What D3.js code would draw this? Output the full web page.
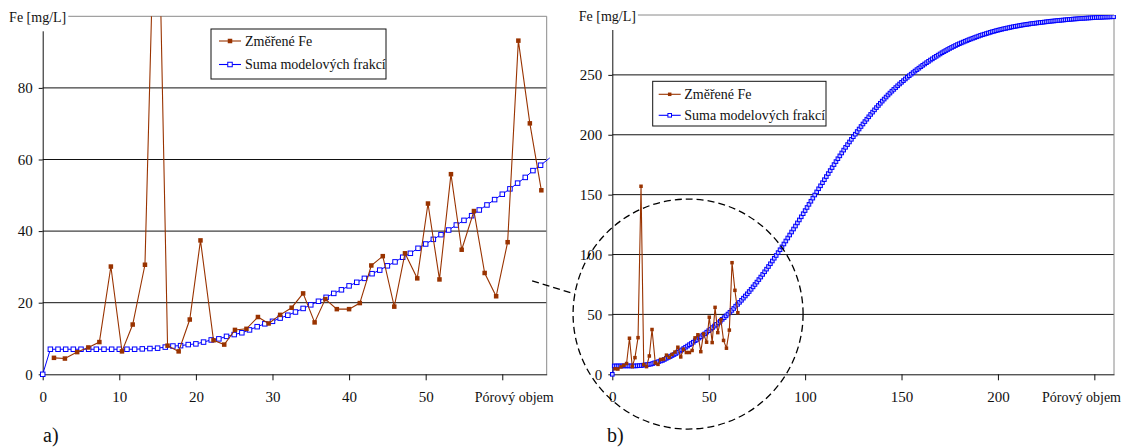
<!DOCTYPE html>
<html>
<head>
<meta charset="utf-8">
<script src="https://cdn.jsdelivr.net/npm/d3@7"></script>
<style>
  body { margin: 0; background: #fff; }
  svg { display: block; }
  svg text { font-family: "Liberation Serif", serif; }
</style>
</head>
<body>
<div id="chart"></div>
<script>
// series names, axis titles
const seriesNames = ['Změřené Fe', 'Suma modelových frakcí'];
const yTitle = 'Fe [mg/L]';
const xTitle = 'Pórový objem';
const panelLabels = ['a)', 'b)'];

// measured Fe (pore volume / mg/L)
const mereniObjem = [1.47, 2.9, 4.5, 5.96, 7.4, 8.9, 10.35, 11.75, 13.35, 14.9,
  16.3, 17.75, 19.2, 20.6, 22.3, 23.7, 25.1, 26.6, 28.1, 29.5,
  31.0, 32.5, 34.0, 35.5, 36.9, 38.4, 40.0, 41.4, 42.9, 44.4,
  45.9, 47.3, 48.9, 50.3, 51.8, 53.3, 54.7, 56.3, 57.7, 59.2,
  60.7, 62.1, 63.6, 65.1];
const mereniFe = [4.6, 4.4, 6.2, 7.5, 9.0, 30.1, 6.4, 13.9, 30.6, 157,
  8.0, 6.4, 15.3, 37.4, 9.5, 8.3, 12.4, 12.7, 16.0, 14.2,
  16.6, 18.6, 22.6, 14.5, 21.0, 18.2, 18.2, 19.9, 30.4, 33.0,
  18.9, 33.8, 26.8, 47.7, 26.5, 55.9, 34.8, 45.6, 28.3, 21.8,
  36.9, 93.2, 70.1, 51.4];

// model sum, one value per pore volume 0, 1, 2, ... 260
const modelFe = [0, 7.0, 7.0, 7.0, 7.0, 7.0, 7.0, 7.0, 7.0, 7.0,
  7.0, 7.0, 7.0, 7.1, 7.2, 7.3, 7.6, 7.9, 8.0, 8.3,
  8.5, 9.0, 9.6, 9.9, 10.6, 11.1, 11.6, 12.4, 13.3, 14.1,
  14.8, 15.7, 16.5, 17.4, 18.4, 19.4, 20.4, 21.5, 22.6, 23.6,
  24.7, 25.7, 26.8, 28.1, 29.1, 30.3, 31.4, 32.7, 33.8, 35.2,
  36.4, 37.7, 39.0, 40.3, 41.7, 43.0, 44.3, 45.9, 47.3, 48.8,
  50.3, 51.8, 53.4, 55.0, 56.9, 58.4, 60.1, 61.8, 63.6, 65.4,
  67.2, 69.1, 71.0, 73.0, 75.0, 77.0, 79.1, 81.2, 83.4, 85.6,
  87.8, 90.0, 92.3, 94.6, 96.9, 99.2, 101.6, 104.0, 106.4, 108.8,
  111.3, 113.8, 116.3, 118.8, 121.3, 123.8, 126.4, 128.9, 131.5, 134.1,
  136.7, 139.3, 141.9, 144.5, 147.1, 149.7, 152.3, 154.9, 157.4, 160.0,
  162.5, 165.1, 167.6, 170.1, 172.6, 175.1, 177.6, 180.0, 182.4, 184.8,
  187.2, 189.5, 191.8, 194.0, 196.2, 198.4, 200.5, 202.7, 204.8, 206.9,
  209.0, 211.0, 213.0, 215.0, 217.0, 218.9, 220.8, 222.7, 224.5, 226.3,
  228.1, 229.8, 231.5, 233.2, 234.8, 236.4, 237.9, 239.4, 240.9, 242.4,
  243.8, 245.2, 246.6, 248.0, 249.3, 250.6, 251.9, 253.2, 254.4, 255.6,
  256.8, 258.0, 259.1, 260.2, 261.3, 262.4, 263.4, 264.5, 265.5, 266.5,
  267.5, 268.5, 269.4, 270.3, 271.2, 272.1, 272.9, 273.7, 274.5, 275.3,
  276.0, 276.7, 277.4, 278.1, 278.7, 279.4, 280.0, 280.6, 281.2, 281.8,
  282.4, 283.0, 283.5, 284.0, 284.5, 285.0, 285.5, 286.0, 286.4, 286.9,
  287.3, 287.7, 288.1, 288.5, 288.8, 289.2, 289.5, 289.9, 290.2, 290.5,
  290.8, 291.1, 291.4, 291.7, 291.9, 292.2, 292.4, 292.7, 292.9, 293.1,
  293.3, 293.5, 293.7, 293.9, 294.1, 294.3, 294.5, 294.7, 294.9, 295.0,
  295.2, 295.4, 295.5, 295.7, 295.8, 296.0, 296.1, 296.3, 296.4, 296.6,
  296.7, 296.8, 297.0, 297.1, 297.2, 297.3, 297.4, 297.5, 297.6, 297.7,
  297.8, 297.9, 298.0, 298.0, 298.1, 298.2, 298.3, 298.3, 298.4, 298.5,
  298.5];

// ticks
const leftXTicks = [0, 10, 20, 30, 40, 50, 60];
const leftYTicks = [0, 20, 40, 60, 80, 100];
const rightXTicks = [0, 50, 100, 150, 200, 250];
const rightYTicks = [0, 50, 100, 150, 200, 250, 300];

const RED = '#993300';
const BLUE = '#0000ff';
const FONT = 'Liberation Serif';

const measured = mereniObjem.map((v, i) => ({x: v, y: mereniFe[i]}));
const model = modelFe.map((v, i) => ({x: i, y: v}));

const svg = d3.select('#chart').append('svg')
  .attr('width', 1126)
  .attr('height', 448);

svg.append('rect').attr('width', 1126).attr('height', 448).attr('fill', '#fff');

function drawPanel(o) {
  const x = d3.scaleLinear().domain([0, o.xMax]).range([o.left, o.right]);
  const y = d3.scaleLinear().domain([0, o.yMax]).range([o.bottom, o.top]);
  const g = svg.append('g');

  const clipId = 'clip-' + o.id;
  svg.append('clipPath').attr('id', clipId)
    .append('rect')
    .attr('x', o.left - 3)
    .attr('y', o.top)
    .attr('width', o.right - o.left + 6)
    .attr('height', o.bottom - o.top + 3);

  // gridlines
  g.append('g')
    .selectAll('line')
    .data(o.yTicks.filter(d => d > 0 && d < o.yMax))
    .join('line')
    .attr('x1', o.left)
    .attr('x2', o.right)
    .attr('y1', d => y(d))
    .attr('y2', d => y(d))
    .attr('stroke', '#111');

  // plot area border (top + right)
  g.append('path')
    .attr('d', `M${o.left},${o.top}H${o.right}V${o.bottom}`)
    .attr('fill', 'none')
    .attr('stroke', '#8a8a8a');

  const yAxis = d3.axisLeft(y)
    .tickValues(o.yTicks.filter(d => d < o.yMax))
    .tickSize(4)
    .tickSizeOuter(0)
    .tickPadding(6);
  const yG = g.append('g')
    .attr('transform', `translate(${o.left},0)`)
    .call(yAxis);

  const lastX = o.xTicks[o.xTicks.length - 1];
  const xAxis = d3.axisBottom(x)
    .tickValues(o.xTicks)
    .tickSize(6)
    .tickSizeOuter(0)
    .tickPadding(11)
    .tickFormat(d => d === lastX ? '' : d);
  const xG = g.append('g')
    .attr('transform', `translate(0,${o.bottom})`)
    .call(xAxis);

  [yG, xG].forEach(a => {
    a.attr('font-family', FONT).attr('font-size', 15);
    a.selectAll('text').attr('fill', '#111');
    a.selectAll('line, path').attr('stroke', '#111');
  });

  // series
  const line = d3.line().x(d => x(d.x)).y(d => y(d.y));
  const plot = g.append('g').attr('clip-path', `url(#${clipId})`);

  plot.append('path')
    .datum(model)
    .attr('d', line)
    .attr('fill', 'none')
    .attr('stroke', BLUE)
    .attr('stroke-width', 1);
  plot.append('g')
    .selectAll('rect')
    .data(model.filter(d => d.x <= o.xMax))
    .join('rect')
    .attr('x', d => x(d.x) - o.mBlue / 2)
    .attr('y', d => y(d.y) - o.mBlue / 2)
    .attr('width', o.mBlue)
    .attr('height', o.mBlue)
    .attr('fill', o.blueFill)
    .attr('stroke', BLUE)
    .attr('stroke-width', 1);

  plot.append('path')
    .datum(measured)
    .attr('d', line)
    .attr('fill', 'none')
    .attr('stroke', RED)
    .attr('stroke-width', 1.1);
  plot.append('g')
    .selectAll('rect')
    .data(measured)
    .join('rect')
    .attr('x', d => x(d.x) - o.mRed / 2)
    .attr('y', d => y(d.y) - o.mRed / 2)
    .attr('width', o.mRed)
    .attr('height', o.mRed)
    .attr('fill', RED);

  // y title sits on the top line, white box hides the axis top
  const titleBox = g.append('rect').attr('fill', '#fff');
  const title = g.append('text')
    .attr('x', o.left - 5)
    .attr('y', o.top + 6)
    .attr('text-anchor', 'middle')
    .attr('font-family', FONT)
    .attr('font-size', 14)
    .attr('fill', '#111')
    .text(yTitle);
  const bb = title.node().getBBox();
  titleBox
    .attr('x', bb.x - 2)
    .attr('y', o.top - 9)
    .attr('width', bb.width + 4)
    .attr('height', 24);

  g.append('text')
    .attr('x', o.right + 7)
    .attr('y', o.bottom + 27.4)
    .attr('text-anchor', 'end')
    .attr('font-family', FONT)
    .attr('font-size', 14)
    .attr('fill', '#111')
    .text(xTitle);

  g.append('text')
    .attr('x', o.labelX)
    .attr('y', 442)
    .attr('font-family', FONT)
    .attr('font-size', 20)
    .attr('fill', '#111')
    .text(o.label);

  drawLegend(o.legend, o.mRed, o.mBlue);

  return {x, y};
}

function drawLegend(l, mRed, mBlue) {
  const lg = svg.append('g').attr('transform', `translate(${l.x},${l.y})`);
  lg.append('rect')
    .attr('width', l.w)
    .attr('height', l.h)
    .attr('fill', '#fff')
    .attr('stroke', '#111');
  const styles = [
    {color: RED, fill: RED, size: mRed},
    {color: BLUE, fill: '#fff', size: mBlue}
  ];
  seriesNames.forEach((name, i) => {
    const cy = l.row0 + i * l.rowGap;
    const s = styles[i];
    lg.append('line')
      .attr('x1', l.line0)
      .attr('x2', l.line1)
      .attr('y1', cy)
      .attr('y2', cy)
      .attr('stroke', s.color)
      .attr('stroke-width', 1.1);
    lg.append('rect')
      .attr('x', (l.line0 + l.line1) / 2 - s.size / 2)
      .attr('y', cy - s.size / 2)
      .attr('width', s.size)
      .attr('height', s.size)
      .attr('fill', s.fill)
      .attr('stroke', i === 1 ? s.color : 'none');
    lg.append('text')
      .attr('x', l.textX)
      .attr('y', cy)
      .attr('dy', '0.33em')
      .attr('font-family', FONT)
      .attr('font-size', 14)
      .attr('fill', '#111')
      .text(name);
  });
}

const left = drawPanel({
  id: 'a', label: panelLabels[0], labelX: 43,
  left: 42.7, right: 546.7, top: 16.3, bottom: 374.3,
  xMax: 65.8, yMax: 100, xTicks: leftXTicks, yTicks: leftYTicks,
  mRed: 4.5, mBlue: 4.5, blueFill: '#fff',
  legend: {x: 211, y: 29, w: 175, h: 50, row0: 12, rowGap: 23.5, line0: 8, line1: 30, textX: 34}
});

const right = drawPanel({
  id: 'b', label: panelLabels[1], labelX: 607,
  left: 612.3, right: 1114, top: 15, bottom: 374.3,
  xMax: 260.2, yMax: 300, xTicks: rightXTicks, yTicks: rightYTicks,
  mRed: 3.5, mBlue: 3.6, blueFill: '#c8c8ff',
  legend: {x: 652.7, y: 81.3, w: 173.3, h: 44.7, row0: 13, rowGap: 21, line0: 6, line1: 28, textX: 31.6}
});

// zoom callout: dashed circle around the measured range + connector from panel a
const cx = right.x(39.3), cy = right.y(50.3), r = 115;
const ang = Math.PI * 190 / 180;
const ex = cx + r * Math.cos(ang), ey = cy + r * Math.sin(ang);
svg.append('circle')
  .attr('cx', cx)
  .attr('cy', cy)
  .attr('r', r)
  .attr('fill', 'none')
  .attr('stroke', '#000')
  .attr('stroke-width', 1.3)
  .attr('stroke-dasharray', '7,4');
svg.append('line')
  .attr('x1', left.x(63.9))
  .attr('y1', left.y(26.1))
  .attr('x2', ex)
  .attr('y2', ey)
  .attr('stroke', '#000')
  .attr('stroke-width', 1.3)
  .attr('stroke-dasharray', '7,4');
</script>
</body>
</html>
